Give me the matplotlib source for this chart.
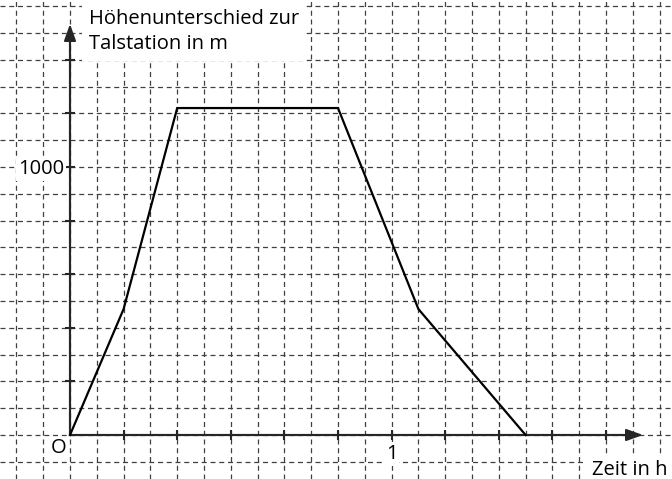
import numpy as np
import matplotlib
matplotlib.use("Agg")
import matplotlib.pyplot as plt
from matplotlib.ticker import MultipleLocator

plt.rcParams['font.family'] = ['Open Sans', 'DejaVu Sans']

# Fahrt der Seilbahn: Zeit in Minuten, Hoehenunterschied in m
zeit_min = [0, 10, 20, 50, 65, 85]
hoehe_m = [0, 470, 1220, 1220, 470, 0]
zeit_h = np.array(zeit_min) / 60.0

x_ticks = np.arange(10, 101, 10) / 60.0
y_ticks = np.arange(200, 1401, 200)

# pixel geometry of the grid (cell = 5 min / 100 m)
W, H = 672, 479
cell = 26.8
ox, oy = 70, 435

fig = plt.figure(figsize=(W / 100, H / 100), dpi=100)
ax = fig.add_axes([0, 0, 1, 1])
ax.set_xlim(-ox / cell / 12, (W - ox) / cell / 12)
ax.set_ylim(-(H - oy) / cell * 100, oy / cell * 100)

x_tip = (643 - ox) / cell / 12
y_tip = (oy - 24) / cell * 100

# grid
ax.xaxis.set_major_locator(plt.FixedLocator(x_ticks))
ax.yaxis.set_major_locator(plt.FixedLocator(y_ticks))
ax.xaxis.set_minor_locator(MultipleLocator(1 / 12))
ax.yaxis.set_minor_locator(MultipleLocator(100))
ax.grid(which='both', color='0.25', linewidth=0.9, linestyle=(0, (4, 3)))
ax.set_axisbelow(True)
ax.tick_params(which='minor', length=0)
ax.tick_params(which='major', direction='inout', length=7.5, width=1.5,
               color='0.15', labelbottom=False, labelleft=False)

# axes with arrows
for s in ['top', 'right']:
    ax.spines[s].set_visible(False)
ax.spines['left'].set_position(('data', 0))
ax.spines['bottom'].set_position(('data', 0))
ax.spines['left'].set_bounds(0, y_tip - 20)
ax.spines['bottom'].set_bounds(0, x_tip - 0.02)
for s in ['left', 'bottom']:
    ax.spines[s].set_linewidth(1.5)
    ax.spines[s].set_color('0.15')
    ax.spines[s].set_zorder(3)
arrow = dict(arrowstyle='-|>,head_length=1.0,head_width=0.36', color='0.15',
             lw=1.5, shrinkA=0, shrinkB=0, mutation_scale=10)
ax.annotate('', xy=(x_tip, 0), xytext=(0, 0), arrowprops=arrow, zorder=3)
ax.annotate('', xy=(0, y_tip), xytext=(0, 0), arrowprops=arrow, zorder=3)

# data
ax.plot(zeit_h, hoehe_m, color='black', lw=1.6, zorder=4, solid_joinstyle='miter')

box = dict(facecolor='white', edgecolor='none', pad=1.5)
fs = 14.5
ax.annotate('1', xy=(1, 0), xytext=(0, -9), textcoords='offset pixels',
            ha='center', va='top', fontsize=fs, bbox=box)
ax.annotate('1000', xy=(0, 1000), xytext=(-6, -2), textcoords='offset pixels',
            ha='right', va='center', fontsize=fs, bbox=box)
ax.annotate('O', xy=(0, 0), xytext=(-11, -13), textcoords='offset pixels',
            ha='center', va='center', fontsize=fs)
fig.text(667 / W, 1 - 475 / H, 'Zeit in h', ha='right', va='baseline',
         fontsize=fs, bbox=dict(facecolor='white', edgecolor='none', pad=4))
fig.text(89 / W, 1 - 9 / H, 'Höhenunterschied zur\nTalstation in m',
         ha='left', va='top', fontsize=fs, linespacing=1.35,
         bbox=dict(facecolor='white', edgecolor='none', pad=5))

fig.savefig('out.png', dpi=100)
